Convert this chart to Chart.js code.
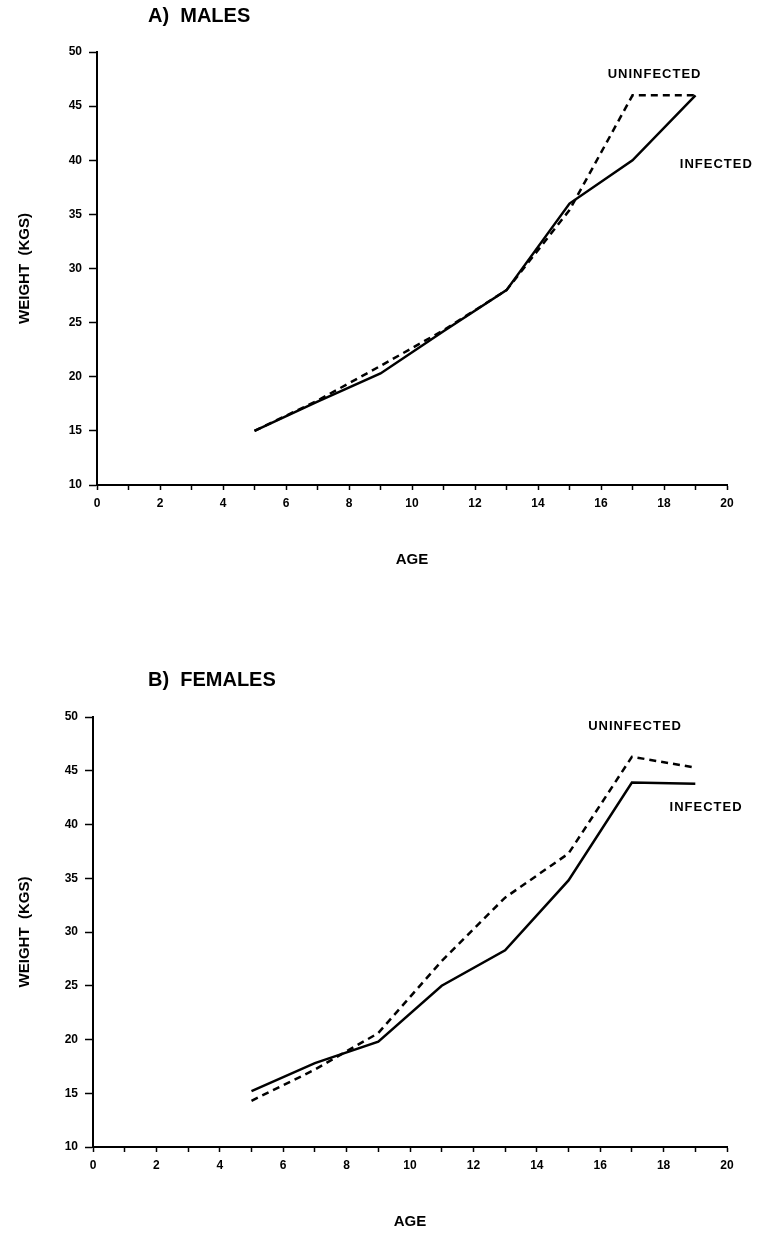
<!DOCTYPE html>
<html>
<head>
<meta charset="utf-8">
<script src="https://cdn.jsdelivr.net/npm/chart.js@4/dist/chart.umd.min.js"></script>
<style>
  body { margin: 0; background: #fff; width: 761px; height: 1233px; position: relative; overflow: hidden; font-family: "Liberation Sans", Arial, sans-serif; }
  .panel { position: absolute; left: 0; width: 761px; }
  .ptitle { position: absolute; font-weight: bold; font-size: 20px; color: #000; white-space: pre; }
</style>
</head>
<body>
<div class="panel" style="top:0;height:600px"><canvas id="chart_males"></canvas></div>
<div class="panel" style="top:620px;height:613px"><canvas id="chart_females"></canvas></div>
<div class="ptitle" style="left:148px;top:4px">A)  MALES</div>
<div class="ptitle" style="left:148px;top:668px">B)  FEMALES</div>
<script>
// ages (years)
const ages = [5, 7, 9, 11, 13, 15, 17, 19];

// weight in kgs
const malesInfected = [15, 17.7, 20.3, 24.2, 28, 36, 40, 46];
const malesUninfected = [15, 17.8, 21, 24.3, 28, 35.4, 46, 46];
const femalesInfected = [15.2, 17.8, 19.8, 25, 28.3, 34.8, 43.9, 43.8];
const femalesUninfected = [14.3, 17.2, 20.6, 27.3, 33.2, 37.3, 46.3, 45.3];

// line labels inside the plot
const noteText = ["UNINFECTED", "INFECTED"];
const malesNoteAt = [[17.7, 47.9], [19.66, 39.6]];
const femalesNoteAt = [[17.1, 49.1], [19.34, 41.6]];

const FONT = "'Liberation Sans', Arial, sans-serif";

function toPoints(values) {
  return ages.map((a, i) => ({ x: a, y: values[i] }));
}

function drawWeightChart(canvasId, infected, uninfected, noteAt, pad, yWidth, xHeight, ageTitlePad) {
  var ctx = document.getElementById(canvasId).getContext("2d");

  const notesPlugin = {
    id: "lineNotes",
    afterDraw(chart) {
      const c = chart.ctx;
      c.save();
      c.font = "bold 13px " + FONT;
      c.letterSpacing = "1px";
      c.fillStyle = "#000";
      c.textAlign = "center";
      c.textBaseline = "middle";
      noteText.forEach((t, i) => {
        c.fillText(t, chart.scales.x.getPixelForValue(noteAt[i][0]), chart.scales.y.getPixelForValue(noteAt[i][1]));
      });
      c.restore();
    },
  };

  return new Chart(ctx, {
    type: "line",
    data: {
      datasets: [
        {
          label: "Infected",
          data: toPoints(infected),
          borderColor: "#000",
          borderWidth: 2.5,
          pointRadius: 0,
          tension: 0,
          fill: false,
        },
        {
          label: "Uninfected",
          data: toPoints(uninfected),
          borderColor: "#000",
          borderWidth: 2.5,
          borderDash: [7, 5],
          pointRadius: 0,
          tension: 0,
          fill: false,
        },
      ],
    },
    options: {
      animation: false,
      responsive: true,
      maintainAspectRatio: false,
      layout: { padding: pad },
      plugins: {
        legend: { display: false },
        tooltip: { enabled: false },
      },
      scales: {
        x: {
          type: "linear",
          min: 0,
          max: 20,
          afterFit: (scale) => { scale.height = xHeight; },
          ticks: {
            stepSize: 1,
            autoSkip: false,
            maxRotation: 0,
            padding: 6,
            color: "#000",
            font: { family: FONT, size: 12, weight: "bold" },
            callback: (v) => (v % 2 === 0 ? String(v) : ""),
          },
          grid: { drawOnChartArea: false, tickLength: 5, tickColor: "#000", tickWidth: 1.5 },
          border: { display: true, color: "#000", width: 2 },
          title: {
            display: true,
            text: "AGE",
            color: "#000",
            font: { family: FONT, size: 15, weight: "bold" },
            padding: { top: 0, bottom: ageTitlePad },
          },
        },
        y: {
          min: 10,
          max: 50,
          afterFit: (scale) => { scale.width = yWidth; },
          ticks: {
            stepSize: 5,
            padding: 7,
            color: "#000",
            font: { family: FONT, size: 12, weight: "bold" },
          },
          grid: { drawOnChartArea: false, tickLength: 8, tickColor: "#000", tickWidth: 1.5 },
          border: { display: true, color: "#000", width: 2 },
          title: {
            display: true,
            text: "WEIGHT  (KGS)",
            color: "#000",
            font: { family: FONT, size: 15, weight: "bold" },
            padding: { top: 16, bottom: 0 },
          },
        },
      },
    },
    plugins: [notesPlugin],
  });
}

drawWeightChart("chart_males", malesInfected, malesUninfected, malesNoteAt,
  { top: 52, left: 0, right: 34, bottom: 25 }, 97, 90, 6);
drawWeightChart("chart_females", femalesInfected, femalesUninfected, femalesNoteAt,
  { top: 97, left: 0, right: 34, bottom: 1 }, 93, 85, 1);
</script>
</body>
</html>
